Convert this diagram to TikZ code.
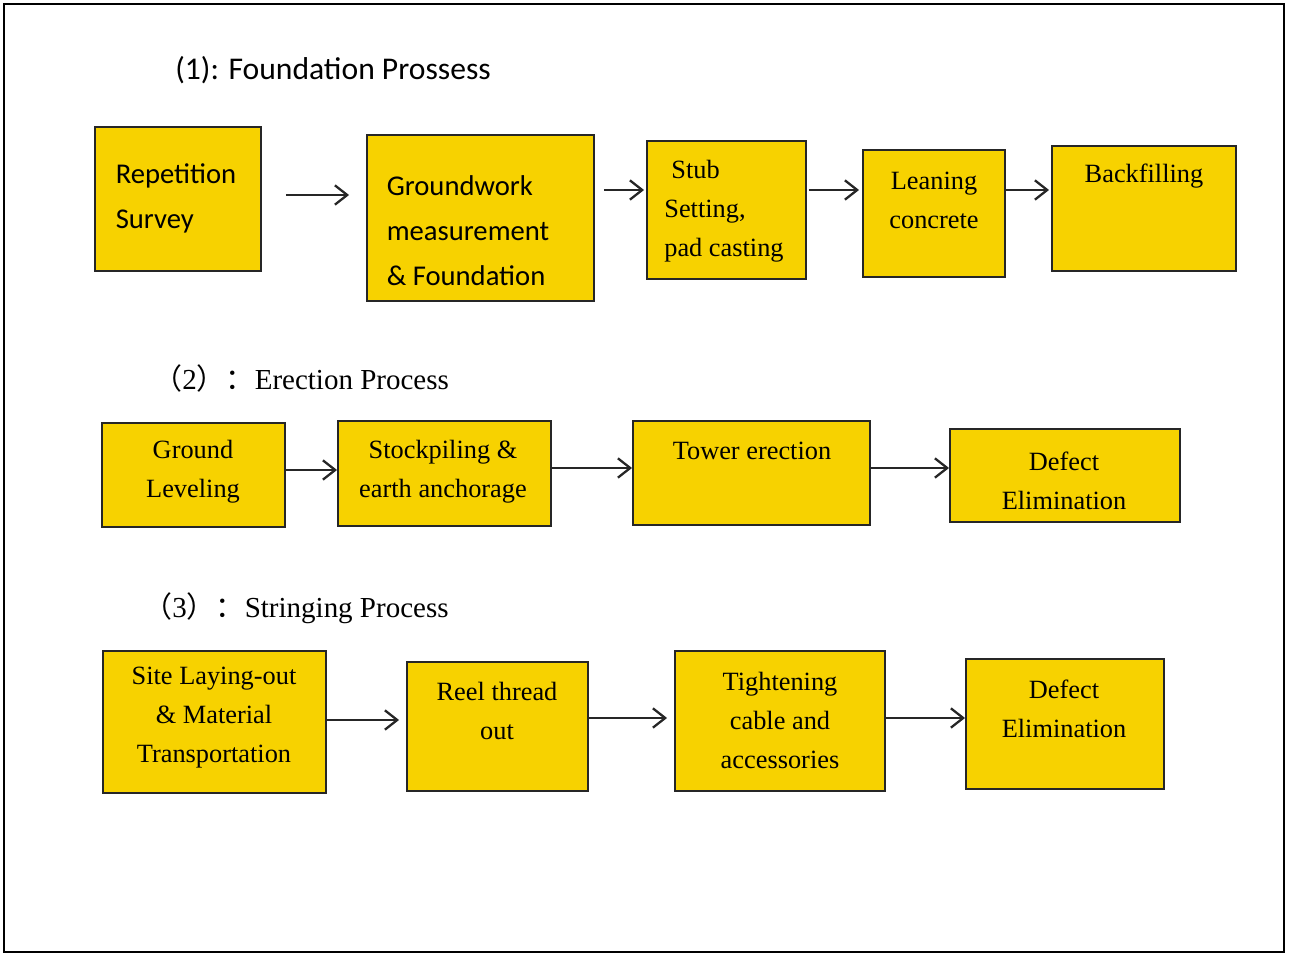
\documentclass[tikz,border=0pt]{standalone}
\usepackage{fontspec}
\setmainfont{Liberation Serif}
\newfontfamily\calibri{Carlito}
\newfontfamily\cjk{Noto Sans CJK SC}
\usepackage{tikz}
\usetikzlibrary{calc,arrows.meta}
\definecolor{boxyellow}{RGB}{247,210,0}

\begin{document}
\begin{tikzpicture}[x=0.02cm, y=-0.02cm,
		stepbox/.style={draw=black!85, line width=1.1pt, fill=boxyellow, inner sep=0pt},
		sanstext/.style={font=\calibri\fontsize{16.3}{25.6}\selectfont, align=left, inner sep=0pt},
		serftext/.style={font=\fontsize{15}{22.2}\selectfont, align=center, inner sep=0pt},
		flow/.style={-{Straight Barb[length=7pt, width=11pt, line width=1.3pt]}, line width=1.4pt, black!85}
		]
		\useasboundingbox (0,0) rectangle (1292,956);
		\draw[line width=1.2pt] (4,4) rectangle (1284,952);

		\node[anchor=west, inner sep=0pt, font=\calibri\fontsize{18}{22}\selectfont](T1) at (175,70){(1): Foundation Prossess};
		\node[anchor=west, inner sep=0pt, font=\fontsize{16.5}{20}\selectfont](T2) at (153,378){{\cjk （}2{\cjk ）：}Erection Process};
		\node[anchor=west, inner sep=0pt, font=\fontsize{16.5}{20}\selectfont](T3) at (143,608){{\cjk （}3{\cjk ）：}Stringing Process};

		\node[stepbox, minimum width=3.32cm, minimum height=2.88cm](F1) at (178,199){};
		\node[stepbox, minimum width=4.54cm, minimum height=3.32cm](F2) at (480.5,218){};
		\node[stepbox, minimum width=3.18cm, minimum height=2.76cm](F3) at (726.5,210){};
		\node[stepbox, minimum width=2.84cm, minimum height=2.54cm](F4) at (934,213.5){};
		\node[stepbox, minimum width=3.68cm, minimum height=2.5cm](F5) at (1144,208.5){};
		\node[sanstext](F1t) at (176,198){Repetition\\Survey};
		\node[sanstext](F2t) at (468,231){Groundwork\\measurement\\\& Foundation};
		\node[serftext, align=left](F3t) at (724,211){\hspace{4pt}Stub\\Setting,\\pad casting};
		\node[serftext](F4t) at (934,200){Leaning\\concrete};
		\node[serftext](F5t) at (1144,176){Backfilling};

		\node[stepbox, minimum width=3.66cm, minimum height=2.08cm](E1) at (193.5,475){};
		\node[stepbox, minimum width=4.26cm, minimum height=2.1cm](E2) at (444.5,473.5){};
		\node[stepbox, minimum width=4.74cm, minimum height=2.08cm](E3) at (751.5,473){};
		\node[stepbox, minimum width=4.6cm, minimum height=1.86cm](E4) at (1065,475.5){};
		\node[serftext](E1t) at (193,472){Ground\\Leveling};
		\node[serftext](E2t) at (443,472){Stockpiling \&\\earth anchorage};
		\node[serftext](E3t) at (752,451){Tower erection};
		\node[serftext](E4t) at (1064,481){Defect\\Elimination};

		\node[stepbox, minimum width=4.46cm, minimum height=2.84cm](S1) at (214.5,722){};
		\node[stepbox, minimum width=3.62cm, minimum height=2.58cm](S2) at (497.5,726.5){};
		\node[stepbox, minimum width=4.2cm, minimum height=2.8cm](S3) at (780,721){};
		\node[stepbox, minimum width=3.96cm, minimum height=2.6cm](S4) at (1065,724){};
		\node[serftext](S1t) at (214,718){Site Laying-out\\\& Material\\Transportation};
		\node[serftext](S2t) at (497,711){Reel thread\\out};
		\node[serftext](S3t) at (780,720){Tightening\\cable and\\accessories};
		\node[serftext](S4t) at (1064,709){Defect\\Elimination};

		\draw[flow, shorten <=0.48cm, shorten >=0.34cm] (F1.east |- 0,195) -- (F2.west |- 0,195);
		\draw[flow, shorten <=0.18cm, shorten >=0.04cm] (F2.east |- 0,190) -- (F3.west |- 0,190);
		\draw[flow, shorten <=0.04cm, shorten >=0.06cm] (F3.east |- 0,190) -- (F4.west |- 0,190);
		\draw[flow, shorten >=0.04cm] (F4.east |- 0,190) -- (F5.west |- 0,190);

		\draw[flow] (E1.east |- 0,470) -- (E2.west |- 0,470);
		\draw[flow] (E2.east |- 0,468) -- (E3.west |- 0,468);
		\draw[flow] (E3.east |- 0,468) -- (E4.west |- 0,468);

		\draw[flow, shorten >=0.14cm] (S1.east |- 0,720) -- (S2.west |- 0,720);
		\draw[flow, shorten >=0.14cm] (S2.east |- 0,718) -- (S3.west |- 0,718);
		\draw[flow] (S3.east |- 0,718) -- (S4.west |- 0,718);
	\end{tikzpicture}
\end{document}
